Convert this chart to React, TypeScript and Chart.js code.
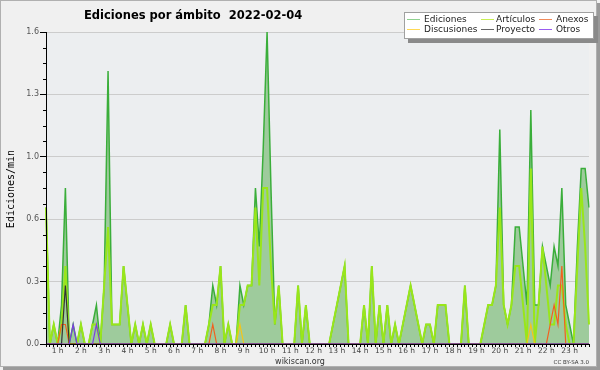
import React, { useEffect, useRef } from 'react';
import { Chart, registerables } from 'chart.js';

Chart.register(...registerables);

// 10-minute bins, first bin at 00:30
const START_MIN = 30;
const STEP_MIN = 10;
const times: string[] = Array.from({ length: 141 }, (_, i) => {
  const m = START_MIN + i * STEP_MIN;
  return String(Math.floor(m / 60)).padStart(2, '0') + ':' + String(m % 60).padStart(2, '0');
});

const yTickValues = [0, 0.32, 0.64, 0.96, 1.28, 1.6];

const ediciones = [
  0.7, 0, 0.1, 0, 0.2, 0.8, 0, 0.1, 0, 0.1, 0, 0,
  0.1, 0.2, 0, 0.3, 1.4, 0.1, 0.1, 0.1, 0.4, 0.2, 0, 0.1,
  0, 0.1, 0, 0.1, 0, 0, 0, 0, 0.1, 0, 0, 0,
  0.2, 0, 0, 0, 0, 0, 0.1, 0.3, 0.2, 0.4, 0, 0.1,
  0, 0, 0.3, 0.2, 0.3, 0.3, 0.8, 0.5, 1.0, 1.6, 0.8, 0.1,
  0.3, 0, 0, 0, 0, 0.3, 0, 0.2, 0, 0, 0, 0,
  0, 0, 0.1, 0.2, 0.3, 0.4, 0, 0, 0, 0, 0.2, 0,
  0.4, 0, 0.2, 0, 0.2, 0, 0.1, 0, 0.1, 0.2, 0.3, 0.2,
  0.1, 0, 0.1, 0.1, 0, 0.2, 0.2, 0.2, 0, 0, 0, 0,
  0.3, 0, 0, 0, 0, 0.1, 0.2, 0.2, 0.3, 1.1, 0.2, 0.1,
  0.2, 0.6, 0.6, 0.4, 0.2, 1.2, 0.2, 0.2, 0.5, 0.4, 0.3, 0.5,
  0.4, 0.8, 0.2, 0.1, 0, 0.5, 0.9, 0.9, 0.7,
];

const articulos = [
  0.7, 0, 0.1, 0, 0.1, 0.4, 0, 0, 0, 0.1, 0, 0,
  0.1, 0.1, 0, 0.3, 0.6, 0.1, 0.1, 0.1, 0.4, 0.2, 0, 0.1,
  0, 0.1, 0, 0.1, 0, 0, 0, 0, 0.1, 0, 0, 0,
  0.2, 0, 0, 0, 0, 0, 0.1, 0.2, 0.2, 0.4, 0, 0.1,
  0, 0, 0.2, 0.2, 0.3, 0.3, 0.7, 0.3, 0.8, 0.8, 0.4, 0.1,
  0.3, 0, 0, 0, 0, 0.3, 0, 0.2, 0, 0, 0, 0,
  0, 0, 0.1, 0.2, 0.3, 0.4, 0, 0, 0, 0, 0.2, 0,
  0.4, 0, 0.2, 0, 0.2, 0, 0.1, 0, 0.1, 0.2, 0.3, 0.2,
  0.1, 0, 0.1, 0.1, 0, 0.2, 0.2, 0.2, 0, 0, 0, 0,
  0.3, 0, 0, 0, 0, 0.1, 0.2, 0.2, 0.3, 0.7, 0.2, 0.1,
  0.2, 0.4, 0.4, 0.2, 0, 0.9, 0, 0.2, 0.5, 0.3, 0.1, 0.1,
  0.3, 0.3, 0.1, 0, 0, 0.4, 0.8, 0.5, 0.1,
];

const anexos = [
  0, 0, 0, 0, 0.1, 0.1, 0, 0, 0, 0, 0, 0,
  0, 0, 0, 0, 0, 0, 0, 0, 0, 0, 0, 0,
  0, 0, 0, 0, 0, 0, 0, 0, 0, 0, 0, 0,
  0, 0, 0, 0, 0, 0, 0, 0.1, 0, 0, 0, 0,
  0, 0, 0, 0, 0, 0, 0, 0, 0, 0, 0, 0,
  0, 0, 0, 0, 0, 0, 0, 0, 0, 0, 0, 0,
  0, 0, 0, 0, 0, 0, 0, 0, 0, 0, 0, 0,
  0, 0, 0, 0, 0, 0, 0, 0, 0, 0, 0, 0,
  0, 0, 0, 0, 0, 0, 0, 0, 0, 0, 0, 0,
  0, 0, 0, 0, 0, 0, 0, 0, 0, 0, 0, 0,
  0, 0, 0, 0, 0, 0, 0, 0, 0, 0, 0.1, 0.2,
  0.1, 0.4, 0, 0, 0, 0, 0, 0, 0,
];

const discusiones = [
  0, 0, 0, 0, 0, 0, 0, 0, 0, 0, 0, 0,
  0, 0, 0, 0, 0, 0, 0, 0, 0, 0, 0, 0,
  0, 0, 0, 0, 0, 0, 0, 0, 0, 0, 0, 0,
  0, 0, 0, 0, 0, 0, 0, 0, 0, 0, 0, 0,
  0, 0, 0.1, 0, 0, 0, 0, 0, 0, 0, 0, 0,
  0, 0, 0, 0, 0, 0, 0, 0, 0, 0, 0, 0,
  0, 0, 0, 0, 0, 0, 0, 0, 0, 0, 0, 0,
  0, 0, 0, 0, 0, 0, 0, 0, 0, 0, 0, 0,
  0, 0, 0, 0, 0, 0, 0, 0, 0, 0, 0, 0,
  0, 0, 0, 0, 0, 0, 0, 0, 0, 0, 0, 0,
  0, 0, 0, 0, 0, 0.1, 0, 0, 0, 0, 0, 0,
  0, 0, 0, 0, 0, 0, 0, 0, 0,
];

const proyecto = [
  0, 0, 0, 0, 0, 0.3, 0, 0, 0, 0, 0, 0,
  0, 0, 0, 0, 0, 0, 0, 0, 0, 0, 0, 0,
  0, 0, 0, 0, 0, 0, 0, 0, 0, 0, 0, 0,
  0, 0, 0, 0, 0, 0, 0, 0, 0, 0, 0, 0,
  0, 0, 0, 0, 0, 0, 0, 0, 0, 0, 0, 0,
  0, 0, 0, 0, 0, 0, 0, 0, 0, 0, 0, 0,
  0, 0, 0, 0, 0, 0, 0, 0, 0, 0, 0, 0,
  0, 0, 0, 0, 0, 0, 0, 0, 0, 0, 0, 0,
  0, 0, 0, 0, 0, 0, 0, 0, 0, 0, 0, 0,
  0, 0, 0, 0, 0, 0, 0, 0, 0, 0, 0, 0,
  0, 0, 0, 0, 0, 0, 0, 0, 0, 0, 0, 0,
  0, 0, 0, 0, 0, 0, 0, 0, 0,
];

const otros = [
  0, 0, 0, 0, 0, 0, 0, 0.1, 0, 0, 0, 0,
  0, 0.1, 0, 0, 0, 0, 0, 0, 0, 0, 0, 0,
  0, 0, 0, 0, 0, 0, 0, 0, 0, 0, 0, 0,
  0, 0, 0, 0, 0, 0, 0, 0, 0, 0, 0, 0,
  0, 0, 0, 0, 0, 0, 0, 0, 0, 0, 0, 0,
  0, 0, 0, 0, 0, 0, 0, 0, 0, 0, 0, 0,
  0, 0, 0, 0, 0, 0, 0, 0, 0, 0, 0, 0,
  0, 0, 0, 0, 0, 0, 0, 0, 0, 0, 0, 0,
  0, 0, 0, 0, 0, 0, 0, 0, 0, 0, 0, 0,
  0, 0, 0, 0, 0, 0, 0, 0, 0, 0, 0, 0,
  0, 0, 0, 0, 0, 0, 0, 0, 0, 0, 0, 0,
  0, 0, 0, 0, 0, 0, 0, 0, 0,
];

const TITLE = 'Ediciones por ámbito  2022-02-04';
const Y_TITLE = 'Ediciones/min';

const legendItems = [
  { label: 'Ediciones', color: '#8fd18f' },
  { label: 'Artículos', color: '#c8ee55' },
  { label: 'Anexos', color: '#f08a5a' },
  { label: 'Discusiones', color: '#ffd955' },
  { label: 'Proyecto', color: '#666666' },
  { label: 'Otros', color: '#9a5cf0' },
];

const decorPlugin = {
  id: 'decor',
  beforeDraw(chart: any) {
    const { ctx, chartArea: a } = chart;
    ctx.save();
    ctx.fillStyle = '#f0f0f0';
    ctx.fillRect(0, 0, chart.width, chart.height);
    // frame with shadow
    ctx.fillStyle = '#9a9a9a';
    ctx.fillRect(597, 3, 3, 367);
    ctx.fillRect(3, 367, 597, 3);
    ctx.strokeStyle = '#b0b0b0';
    ctx.lineWidth = 1;
    ctx.strokeRect(0.5, 0.5, 596, 366);
    ctx.fillStyle = '#eceef0';
    ctx.fillRect(a.left, a.top, a.right - a.left, a.bottom - a.top);
    ctx.restore();
  },
  afterDraw(chart: any) {
    const { ctx, chartArea: a } = chart;
    const y = chart.scales.y;
    ctx.save();
    // minor y ticks
    ctx.strokeStyle = '#000';
    ctx.lineWidth = 1;
    for (let k = 0; k <= 20; k++) {
      if (k % 4 === 0) continue;
      const py = Math.round(y.getPixelForValue(k * 0.08)) + 0.5;
      ctx.beginPath();
      ctx.moveTo(a.left - 3, py);
      ctx.lineTo(a.left, py);
      ctx.stroke();
    }
    // title
    ctx.fillStyle = '#000';
    ctx.font = "bold 11.5px 'DejaVu Sans'";
    ctx.textAlign = 'left';
    ctx.textBaseline = 'alphabetic';
    ctx.fillText(TITLE, 84, 18.5);
    // y title
    ctx.save();
    ctx.translate(14, 189);
    ctx.rotate(-Math.PI / 2);
    ctx.font = "10px 'DejaVu Sans Mono'";
    ctx.textAlign = 'center';
    ctx.fillStyle = '#000';
    ctx.fillText(Y_TITLE, 0, 0);
    ctx.restore();
    // footer
    ctx.fillStyle = '#333';
    ctx.font = "8px 'DejaVu Sans'";
    ctx.textAlign = 'center';
    ctx.fillText('wikiscan.org', 300, 364);
    ctx.font = "5.5px 'DejaVu Sans'";
    ctx.textAlign = 'right';
    ctx.fillText('CC BY-SA 3.0', 589, 364);
    // legend
    ctx.fillStyle = '#8a8a8a';
    ctx.fillRect(408, 16, 190, 27);
    ctx.fillStyle = '#ffffff';
    ctx.fillRect(404, 12, 190, 27);
    ctx.strokeStyle = '#a0a0a0';
    ctx.strokeRect(404.5, 12.5, 189, 26);
    const colLine = [407, 481, 539];
    const colText = [424, 496, 556];
    const rows = [19.5, 29.5];
    ctx.font = "9px 'DejaVu Sans'";
    ctx.textAlign = 'left';
    ctx.textBaseline = 'middle';
    legendItems.forEach((it, i) => {
      const c = i % 3;
      const r = Math.floor(i / 3);
      ctx.strokeStyle = it.color;
      ctx.lineWidth = 1;
      ctx.beginPath();
      ctx.moveTo(colLine[c], rows[r]);
      ctx.lineTo(colLine[c] + 13, rows[r]);
      ctx.stroke();
      ctx.fillStyle = '#222';
      ctx.fillText(it.label, colText[c], rows[r]);
    });
    ctx.restore();
  },
};

export default function App() {
  const ref = useRef<HTMLCanvasElement>(null);
  useEffect(() => {
    if (!ref.current) return;
    const lineDs = (label: string, data: number[], color: string, order: number, width = 1.2) => ({
      label,
      data,
      borderColor: color,
      backgroundColor: color,
      borderWidth: width,
      pointRadius: 0,
      tension: 0,
      fill: false,
      order,
    });
    const chart = new Chart(ref.current, {
      type: 'line',
      data: {
        labels: times,
        datasets: [
          {
            label: 'Ediciones',
            data: ediciones,
            borderColor: '#3aae3a',
            backgroundColor: '#9ecb9c',
            borderWidth: 1.5,
            pointRadius: 0,
            tension: 0,
            fill: 'origin',
            order: 6,
          },
          lineDs('Artículos', articulos, '#99e61a', 5, 2),
          lineDs('Discusiones', discusiones, '#f5c518', 4),
          lineDs('Anexos', anexos, '#f2601e', 3),
          lineDs('Proyecto', proyecto, '#333333', 2),
          lineDs('Otros', otros, '#7d3be6', 1),
        ],
      },
      options: {
        responsive: false,
        animation: false,
        layout: { padding: { left: 0, right: 11, top: 32, bottom: 0 } },
        plugins: { legend: { display: false }, title: { display: false }, tooltip: { enabled: false } },
        scales: {
          x: {
            type: 'category',
            offset: false,
            afterFit: (s: any) => { s.height = 26; },
            grid: { drawOnChartArea: false, drawTicks: true, tickLength: 3, tickColor: '#000', tickWidth: 1 },
            border: { display: true, color: '#000', width: 1, z: 1 },
            ticks: {
              autoSkip: false,
              maxRotation: 0,
              minRotation: 0,
              padding: 0,
              color: '#444',
              font: { family: 'DejaVu Sans', size: 7.5 },
              callback: (v: any, i: number) => {
                const t = times[i];
                return t.endsWith(':00') ? parseInt(t, 10) + ' h' : '';
              },
            },
          },
          y: {
            type: 'linear',
            min: 0,
            max: 1.6,
            afterFit: (s: any) => { s.width = 46; },
            afterBuildTicks: (s: any) => { s.ticks = yTickValues.map((v) => ({ value: v })); },
            grid: {
              drawOnChartArea: true,
              color: (c: any) => (c.tick && c.tick.value === 0 ? 'rgba(0,0,0,0)' : '#cccccc'),
              tickLength: 6,
              tickColor: '#000',
            },
            border: { display: true, color: '#000', width: 1, z: 1 },
            ticks: {
              padding: 1,
              color: '#555',
              font: { family: 'DejaVu Sans', size: 8 },
              callback: (v: any) => Number(v).toFixed(1),
            },
          },
        },
      },
      plugins: [decorPlugin],
    } as any);
    return () => chart.destroy();
  }, []);
  return (
    <div style={{ position: 'absolute', left: 0, top: 0, width: 600, height: 370 }}>
      <canvas ref={ref} width={600} height={370} style={{ display: 'block' }} />
    </div>
  );
}
